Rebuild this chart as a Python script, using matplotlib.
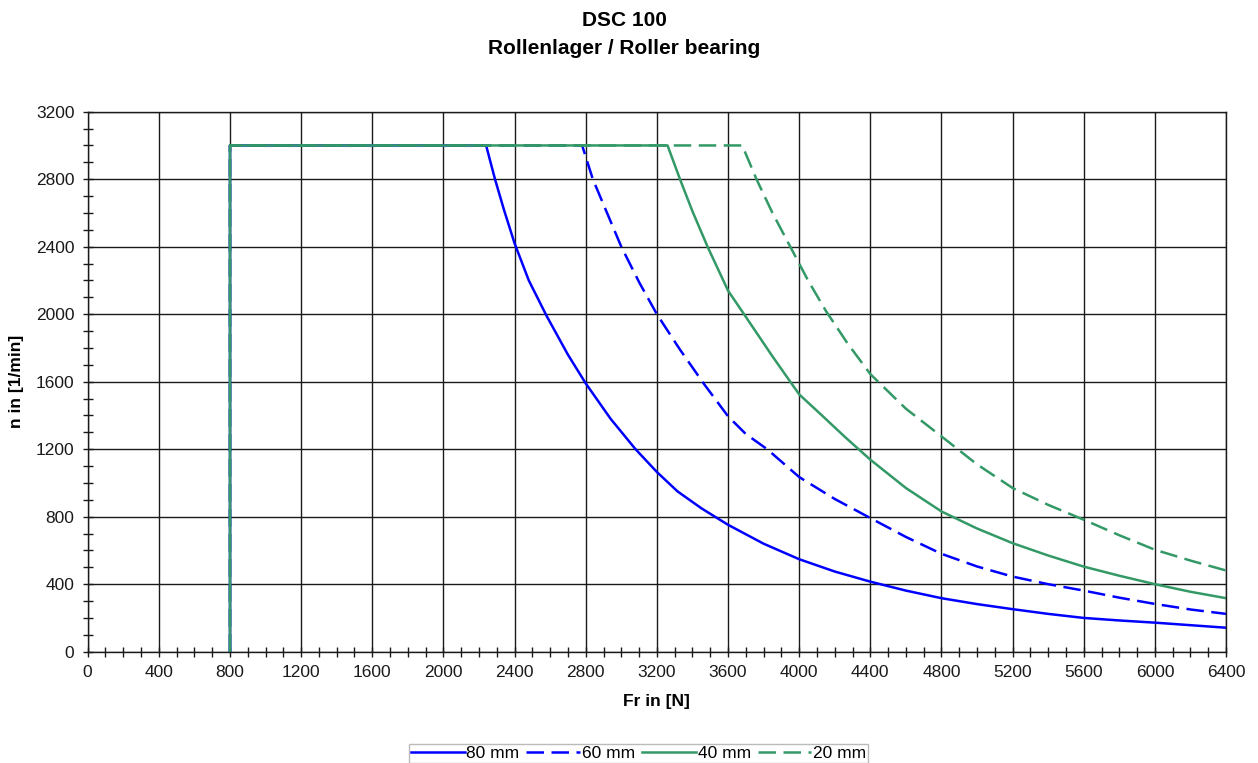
import matplotlib
matplotlib.use("Agg")
import matplotlib.pyplot as plt
from matplotlib.ticker import MultipleLocator

plt.rcParams['font.family'] = ['Liberation Sans', 'DejaVu Sans']

# data: Fr [N] -> n [1/min]
x_80 = [800, 800, 2240, 2290, 2340, 2400, 2480, 2580, 2700, 2800, 2940, 3080, 3200, 3316, 3450, 3600,
        3800, 4000, 4200, 4400, 4600, 4800, 5000, 5200, 5400, 5600, 5800, 6000, 6200, 6400]
y_80 = [0, 3000, 3000, 2800, 2620, 2420, 2200, 1990, 1760, 1590, 1380, 1200, 1065, 950, 850, 752,
        640, 548, 475, 415, 362, 317, 282, 252, 224, 200, 185, 172, 157, 142]

x_60 = [800, 800, 2780, 2810, 2840, 2920, 3000, 3100, 3200, 3330, 3466, 3600, 3700, 3820, 4000, 4200,
        4400, 4600, 4800, 5000, 5200, 5400, 5600, 5800, 6000, 6200, 6400]
y_60 = [0, 3000, 3000, 2900, 2800, 2600, 2400, 2190, 2000, 1790, 1585, 1395, 1290, 1200, 1035, 905,
        792, 680, 580, 505, 445, 400, 362, 320, 283, 250, 224]

x_40 = [800, 800, 3260, 3330, 3400, 3485, 3600, 3690, 3850, 4000, 4123, 4260, 4400, 4600, 4800, 5000,
        5200, 5400, 5600, 5800, 6000, 6200, 6400]
y_40 = [0, 3000, 3000, 2800, 2610, 2400, 2140, 2000, 1750, 1525, 1405, 1270, 1138, 970, 831, 730,
        643, 570, 504, 450, 400, 355, 317]

x_20 = [800, 800, 3680, 3720, 3760, 3850, 3950, 4050, 4150, 4270, 4400, 4600, 4800, 5000, 5200, 5400,
        5600, 5800, 6000, 6200, 6400]
y_20 = [0, 3000, 3000, 2900, 2800, 2600, 2400, 2200, 2020, 1830, 1645, 1440, 1276, 1110, 970, 870,
        782, 690, 604, 540, 481]

labels = ['80 mm', '60 mm', '40 mm', '20 mm']
x_ticks = list(range(0, 6401, 400))
y_ticks = list(range(0, 3201, 400))

blue = '#0000ff'
green = '#339966'

fig = plt.figure(figsize=(12.58, 7.63), dpi=100)
ax = fig.add_axes([0.0697, 0.1459, 0.9049, 0.7077])

lw = 1.8
ax.plot(x_80, y_80, color=blue, lw=lw, label=labels[0])
ax.plot(x_60, y_60, color=blue, lw=lw, dashes=(7, 3), label=labels[1])
ax.plot(x_40, y_40, color=green, lw=lw, label=labels[2])
ax.plot(x_20, y_20, color=green, lw=lw, dashes=(7, 3), label=labels[3])

ax.set_xlim(0, 6400)
ax.set_ylim(0, 3200)
ax.set_xticks(x_ticks)
ax.set_yticks(y_ticks)
ax.xaxis.set_minor_locator(MultipleLocator(100))
ax.yaxis.set_minor_locator(MultipleLocator(100))
ax.grid(True, which='major', color='#1a1a1a', lw=1.0)
ax.set_axisbelow(True)
ax.tick_params(which='both', direction='inout', length=7, width=1, labelsize=12.5, pad=6, colors='#1a1a1a')
for s in ax.spines.values():
    s.set_color('#1a1a1a')
    s.set_linewidth(1.0)

ax.set_xlabel('Fr in [N]', fontsize=12.5, fontweight='bold', labelpad=10)
fig.text(17 / 1258, 0.4997, 'n in [1/min]', rotation=90, fontsize=12.5, fontweight='bold',
         ha='center', va='center')

fig.text(0.4964, 1 - 20 / 763, 'DSC 100', fontsize=15, fontweight='bold', ha='center', va='center')
fig.text(0.4964, 1 - 48 / 763, 'Rollenlager / Roller bearing', fontsize=15, fontweight='bold',
         ha='center', va='center')

leg = fig.legend(loc='upper center', bbox_to_anchor=(0.5076, 1 - 744 / 763), ncol=4, fontsize=12.5,
                 frameon=True, fancybox=False, edgecolor='#aaaaaa', handlelength=3.1,
                 handletextpad=0.1, columnspacing=0.4, borderpad=0.1, borderaxespad=0)
leg.get_frame().set_linewidth(1.0)

fig.savefig('out.png', dpi=100)
